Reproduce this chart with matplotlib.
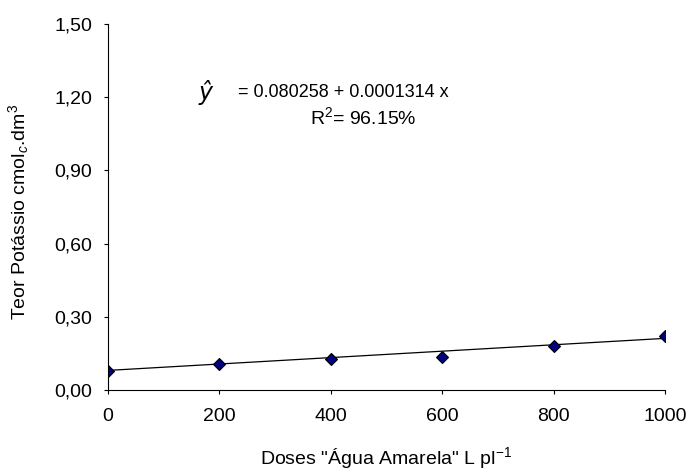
import numpy as np
import matplotlib.pyplot as plt

plt.rcParams['font.family'] = ['Liberation Sans', 'DejaVu Sans']
plt.rcParams['mathtext.fontset'] = 'custom'
plt.rcParams['mathtext.rm'] = 'Liberation Sans'
plt.rcParams['mathtext.it'] = 'Liberation Sans:italic'

doses = [0, 200, 400, 600, 800, 1000]
potassio = [0.079, 0.105, 0.128, 0.137, 0.179, 0.220]
a, b = 0.080258, 0.0001314  # fitted line coefficients

fig = plt.figure(figsize=(6.92, 4.72), dpi=100)
ax = fig.add_axes([0.1556, 0.1737, 0.8054, 0.7755])

xfit = np.linspace(0, 1000, 200)
ax.plot(xfit, a + b * xfit, color='black', lw=0.9)
ax.plot(doses, potassio, 'D', ms=6, mfc='#000080', mec='black', mew=0.8)

ax.set_xlim(0, 1000)
ax.set_ylim(0, 1.5)
ax.set_xticks([0, 200, 400, 600, 800, 1000])
ax.set_yticks([0, 0.3, 0.6, 0.9, 1.2, 1.5])
ax.set_yticklabels(['0,00', '0,30', '0,60', '0,90', '1,20', '1,50'])
ax.spines['top'].set_visible(False)
ax.spines['right'].set_visible(False)
ax.tick_params(direction='out', length=3, width=0.8, labelsize=14)
ax.tick_params(axis='x', pad=10)
ax.tick_params(axis='y', pad=8)

ax.set_xlabel('Doses "Água Amarela" L pl$^{-1}$', fontsize=14)
ax.set_ylabel('Teor Potássio cmol$_{c}$.dm$^{3}$', fontsize=14)
ax.xaxis.set_label_coords(0.5, -0.15)
ax.yaxis.set_label_coords(-0.138, 0.486)

ax.text(0.175, 0.814, 'ŷ', transform=ax.transAxes, fontsize=17, ha='center', va='center',
        family='DejaVu Sans', style='italic')
ax.text(0.233, 0.814, '= 0.080258 + 0.0001314 x', transform=ax.transAxes, fontsize=13,
        ha='left', va='center')
ax.text(0.458, 0.746, 'R$^{2}$= 96.15%', transform=ax.transAxes, fontsize=14,
        ha='center', va='center')

fig.savefig('out.png', dpi=100)
